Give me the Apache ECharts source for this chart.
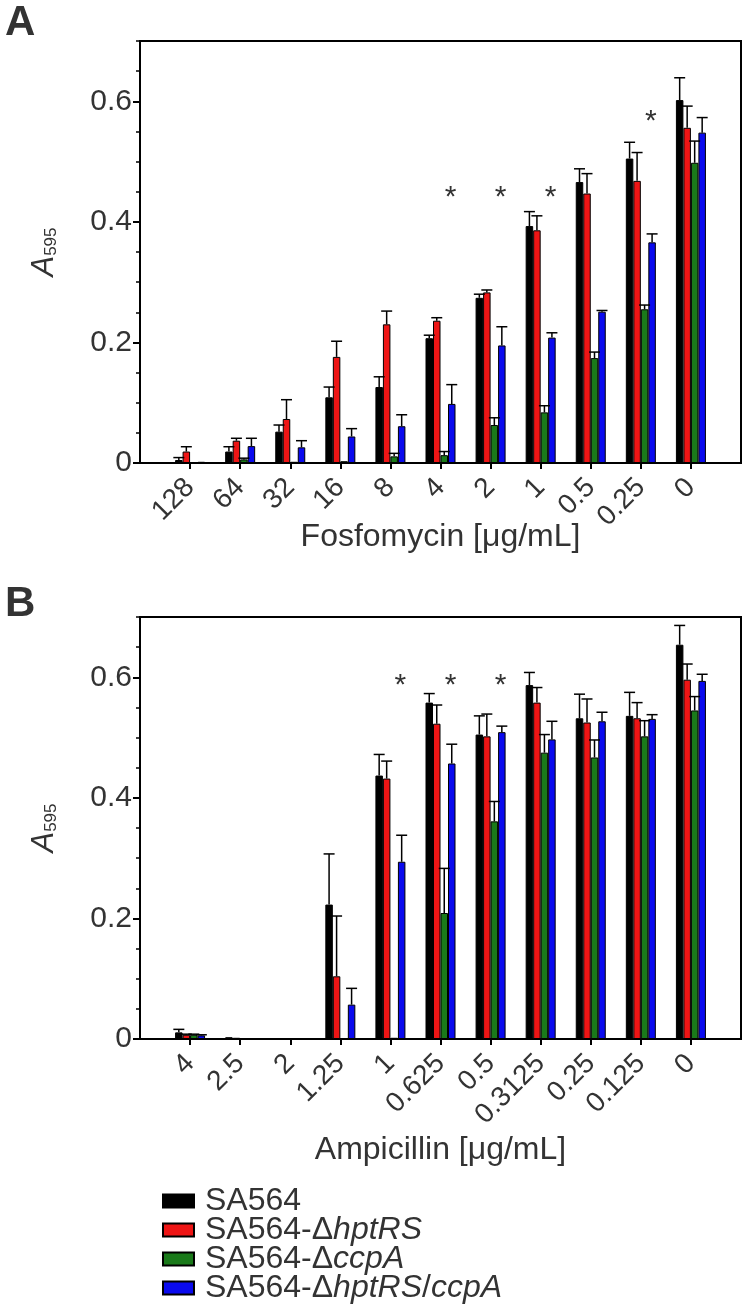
<!DOCTYPE html>
<html>
<head>
<meta charset="utf-8">
<script src="https://cdn.jsdelivr.net/npm/echarts@6/dist/echarts.min.js"></script>
<style>
html,body{margin:0;padding:0;background:#fff;}
#chart{width:749px;height:1313px;}
</style>
</head>
<body>
<div id="chart"></div>
<script>
// ---------- data ----------
const seriesNames = ['SA564', 'SA564-ΔhptRS', 'SA564-ΔccpA', 'SA564-ΔhptRS/ccpA'];
const seriesColors = ['#000000', '#ee1515', '#1a7a1a', '#0a0aee'];

// Panel A: Fosfomycin
const fosfoLabels = ['128', '64', '32', '16', '8', '4', '2', '1', '0.5', '0.25', '0'];
const fosfoSA564      = [0.005, 0.019, 0.052, 0.109, 0.126, 0.207, 0.274, 0.393, 0.466, 0.505, 0.602];
const fosfoSA564Err   = [0.004, 0.008, 0.011, 0.017, 0.017, 0.005, 0.006, 0.024, 0.022, 0.027, 0.037];
const fosfoHptRS      = [0.019, 0.037, 0.073, 0.176, 0.230, 0.236, 0.283, 0.386, 0.447, 0.468, 0.556];
const fosfoHptRSErr   = [0.008, 0.004, 0.032, 0.026, 0.022, 0.005, 0.004, 0.024, 0.033, 0.047, 0.036];
const fosfoCcpA       = [0.001, 0.006, 0.002, 0.003, 0.011, 0.013, 0.063, 0.084, 0.174, 0.255, 0.498];
const fosfoCcpAErr    = [0.000, 0.002, 0.000, 0.000, 0.005, 0.006, 0.012, 0.011, 0.010, 0.007, 0.036];
const fosfoDouble     = [0.002, 0.028, 0.026, 0.044, 0.061, 0.098, 0.195, 0.208, 0.251, 0.366, 0.548];
const fosfoDoubleErr  = [0.000, 0.013, 0.011, 0.013, 0.019, 0.032, 0.031, 0.008, 0.002, 0.014, 0.025];
const fosfoStarCats = ['4', '2', '1', '0.25'];
const fosfoStarY    = [0.453, 0.453, 0.453, 0.58];

// Panel B: Ampicillin
const ampLabels = ['4', '2.5', '2', '1.25', '1', '0.625', '0.5', '0.3125', '0.25', '0.125', '0'];
const ampSA564      = [0.011, 0.003, 0.001, 0.223, 0.437, 0.558, 0.505, 0.587, 0.532, 0.536, 0.654];
const ampSA564Err   = [0.005, 0.000, 0.000, 0.084, 0.035, 0.015, 0.031, 0.021, 0.040, 0.039, 0.032];
const ampHptRS      = [0.007, 0.002, 0.001, 0.104, 0.432, 0.523, 0.502, 0.558, 0.525, 0.532, 0.596];
const ampHptRSErr   = [0.001, 0.000, 0.000, 0.100, 0.029, 0.031, 0.037, 0.025, 0.039, 0.026, 0.026];
const ampCcpA       = [0.007, 0.001, 0.001, 0.001, 0.002, 0.209, 0.361, 0.475, 0.467, 0.502, 0.545];
const ampCcpAErr    = [0.001, 0.000, 0.000, 0.000, 0.000, 0.074, 0.033, 0.030, 0.029, 0.026, 0.023];
const ampDouble     = [0.006, 0.001, 0.001, 0.057, 0.294, 0.457, 0.509, 0.497, 0.527, 0.531, 0.594];
const ampDoubleErr  = [0.001, 0.000, 0.000, 0.027, 0.044, 0.032, 0.010, 0.030, 0.015, 0.007, 0.011];
const ampStarCats = ['1', '0.625', '0.5'];
const ampStarY    = [0.6, 0.6, 0.6];

const yTickLabels = ['0', '0.2', '0.4', '0.6'];

// ---------- layout helpers ----------
const FONT = 'Liberation Sans, Arial, Helvetica, sans-serif';
const TXT = '#333333';
const BAR_W = 7.5;

const panels = [
  { labels: fosfoLabels, title: 'Fosfomycin [μg/mL]', nameGap: 58,
    vals: [fosfoSA564, fosfoHptRS, fosfoCcpA, fosfoDouble],
    errs: [fosfoSA564Err, fosfoHptRSErr, fosfoCcpAErr, fosfoDoubleErr],
    starCats: fosfoStarCats, starY: fosfoStarY, top: 41 },
  { labels: ampLabels, title: 'Ampicillin [μg/mL]', nameGap: 95,
    vals: [ampSA564, ampHptRS, ampCcpA, ampDouble],
    errs: [ampSA564Err, ampHptRSErr, ampCcpAErr, ampDoubleErr],
    starCats: ampStarCats, starY: ampStarY, top: 617 }
];

const pad = arr => [null].concat(arr, [null]);

const grids = [], xAxes = [], yAxes = [], series = [];

panels.forEach((p, pi) => {
  grids.push({ left: 140, top: p.top, width: 601, height: 422, show: true,
    borderColor: '#000', borderWidth: 2, backgroundColor: 'transparent' });

  xAxes.push({
    type: 'category', gridIndex: pi, data: [''].concat(p.labels, ['']), boundaryGap: false,
    axisLine: { lineStyle: { color: '#000', width: 2 } },
    axisTick: { interval: (i, v) => v !== '', length: 6, lineStyle: { color: '#000', width: 2 } },
    axisLabel: { interval: 0, rotate: 45, fontSize: 28, color: TXT, margin: 20, fontFamily: FONT },
    splitLine: { show: false },
    name: p.title, nameLocation: 'middle', nameGap: p.nameGap, nameMoveOverlap: false,
    nameTextStyle: { fontSize: 32, color: TXT, fontFamily: FONT }
  });

  // major ticks + labels
  yAxes.push({
    type: 'value', gridIndex: pi, position: 'left', min: 0, max: 0.7, interval: 0.2,
    axisLine: { show: true, lineStyle: { color: '#000', width: 2 } },
    axisTick: { show: true, length: 7, lineStyle: { color: '#000', width: 2 } },
    axisLabel: { fontSize: 30, color: TXT, margin: 8, fontFamily: FONT, showMaxLabel: false,
      formatter: v => { const k = Math.round(v / 0.2); return Math.abs(v - k * 0.2) < 1e-6 ? yTickLabels[k] : ''; } },
    splitLine: { show: false },
    name: '{a|A}{b|595}', nameLocation: 'middle', nameRotate: 90, nameGap: 80,
    nameTextStyle: { rich: {
      a: { fontSize: 31, fontStyle: 'italic', color: TXT, fontFamily: FONT },
      b: { fontSize: 17, color: TXT, fontFamily: FONT, verticalAlign: 'bottom' }
    } }
  });
  // minor ticks
  yAxes.push({
    type: 'value', gridIndex: pi, position: 'left', offset: 0, min: 0, max: 0.7, interval: 0.05,
    axisLine: { show: false },
    axisTick: { show: true, length: 4, lineStyle: { color: '#000', width: 1.5 } },
    axisLabel: { show: false }, splitLine: { show: false }
  });

  p.vals.forEach((vals, si) => {
    series.push({
      type: 'bar', name: seriesNames[si], xAxisIndex: pi, yAxisIndex: pi * 2,
      data: pad(vals), barWidth: BAR_W, barGap: '0%',
      itemStyle: { color: seriesColors[si], borderColor: '#000', borderWidth: 1 },
      z: 2
    });
  });

  const errData = [];
  p.vals.forEach((vals, si) => {
    vals.forEach((v, ci) => { errData.push([ci + 1, v, p.errs[si][ci], si]); });
  });
  series.push({
    type: 'custom', xAxisIndex: pi, yAxisIndex: pi * 2, data: errData, z: 3, silent: true,
    renderItem: (params, api) => {
      const c = api.value(0), v = api.value(1), e = api.value(2), s = api.value(3);
      if (!(e > 0)) return null;
      const base = api.coord([c, v]);
      const top = api.coord([c, v + e]);
      const x = base[0] + (s - 1.5) * BAR_W;
      return { type: 'group', children: [
        { type: 'line', shape: { x1: x, y1: base[1], x2: x, y2: top[1] }, style: { stroke: '#000', lineWidth: 1.5 } },
        { type: 'line', shape: { x1: x - 5.5, y1: top[1], x2: x + 5.5, y2: top[1] }, style: { stroke: '#000', lineWidth: 1.5 } }
      ] };
    }
  });

  const starData = p.starCats.map((c, i) => [p.labels.indexOf(c) + 1, p.starY[i]]);
  series.push({
    type: 'custom', xAxisIndex: pi, yAxisIndex: pi * 2, data: starData, z: 4, silent: true,
    renderItem: (params, api) => {
      const pt = api.coord([api.value(0), api.value(1)]);
      return { type: 'text', style: { text: '*', x: pt[0] + 10, y: pt[1] + 8, fill: TXT,
        font: '30px ' + FONT, align: 'center', verticalAlign: 'middle' } };
    }
  });
});

const legendText = {
  'SA564': 'SA564',
  'SA564-ΔhptRS': 'SA564-Δ{i|hptRS}',
  'SA564-ΔccpA': 'SA564-Δ{i|ccpA}',
  'SA564-ΔhptRS/ccpA': 'SA564-Δ{i|hptRS}/{i|ccpA}'
};

const option = {
  animation: false,
  textStyle: { fontFamily: FONT },
  grid: grids, xAxis: xAxes, yAxis: yAxes, series: series,
  legend: {
    data: seriesNames, orient: 'vertical', left: 162, top: 1185, width: 560, height: 200, padding: 0,
    itemWidth: 31, itemHeight: 13, itemGap: -3, icon: 'rect', selectedMode: false,
    formatter: n => legendText[n],
    textStyle: { fontSize: 32, color: TXT, fontFamily: FONT, lineHeight: 28.5, padding: [0, 0, 0, 6],
      rich: { i: { fontSize: 32, fontStyle: 'italic', color: TXT, fontFamily: FONT, lineHeight: 28.5 } } }
  },
  graphic: [
    { type: 'text', left: 5, top: 2, style: { text: 'A', font: 'bold 42px ' + FONT, fill: TXT } },
    { type: 'text', left: 5, top: 583, style: { text: 'B', font: 'bold 42px ' + FONT, fill: TXT } }
  ]
};

const chart = echarts.init(document.getElementById('chart'), null, { renderer: 'canvas' });
chart.setOption(option);
</script>
</body>
</html>
